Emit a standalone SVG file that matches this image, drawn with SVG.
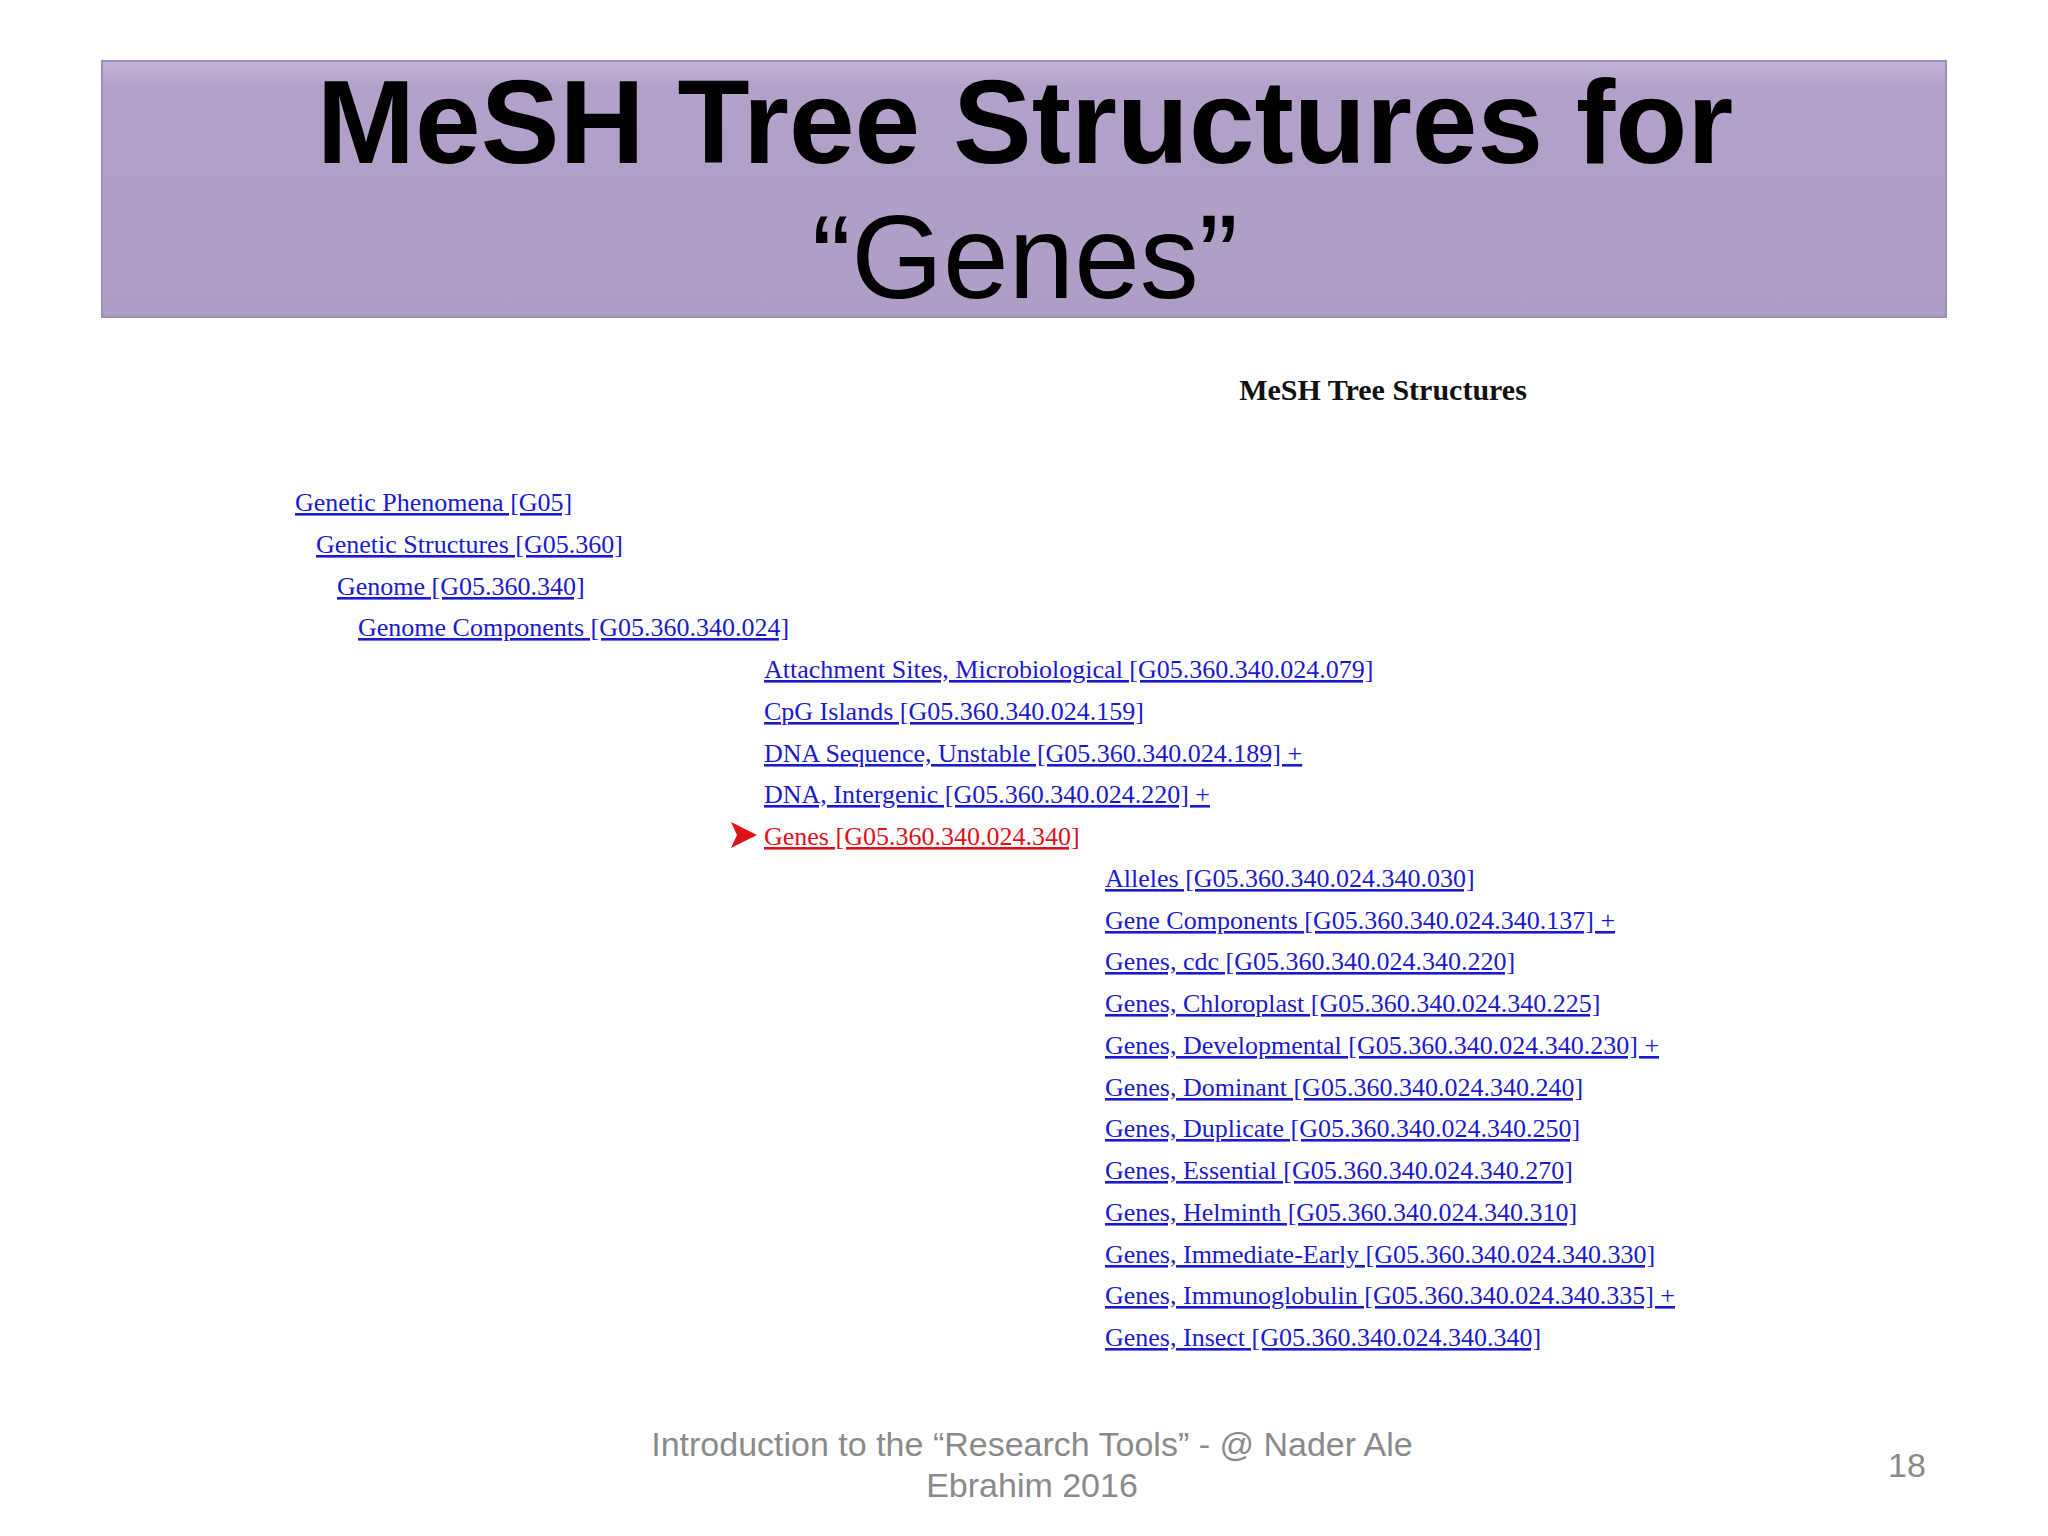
<svg xmlns="http://www.w3.org/2000/svg" width="2048" height="1536" viewBox="0 0 2048 1536">
<defs>
<linearGradient id="bg" x1="0" y1="0" x2="0" y2="1"><stop offset="0" stop-color="#c2b5d8"/><stop offset="0.1" stop-color="#b2a2c9"/><stop offset="1" stop-color="#ad9ec5"/></linearGradient>
<clipPath id="cp"><rect x="0" y="0" width="2048" height="1371"/></clipPath>
</defs>
<style>
.t{font-family:"Liberation Serif",serif;font-size:26px;fill:#1a1ad0;text-decoration:underline}
.r{fill:#e0101a}
.f{font-family:"Liberation Sans",Arial,sans-serif;font-size:34px;fill:#8a8a8a;text-anchor:middle}
</style>
<rect width="2048" height="1536" fill="#fff"/>
<g id="banner">
<rect x="102" y="61" width="1844" height="256" fill="url(#bg)" stroke="#9d8fb8" stroke-width="2"/>
<text x="1025" y="163" font-family="Liberation Sans,Arial,sans-serif" font-size="118" font-weight="bold" text-anchor="middle" fill="#000">MeSH Tree Structures for</text>
<text x="1025" y="298" font-family="Liberation Sans,Arial,sans-serif" font-size="118" text-anchor="middle" fill="#000">“Genes”</text>
</g>
<text x="1383" y="400" font-family="Liberation Serif,serif" font-size="30" font-weight="bold" text-anchor="middle" fill="#111">MeSH Tree Structures</text>
<g id="tree" clip-path="url(#cp)">
<text class="t" x="295" y="511">Genetic Phenomena [G05]</text>
<text class="t" x="316" y="553">Genetic Structures [G05.360]</text>
<text class="t" x="337" y="595">Genome [G05.360.340]</text>
<text class="t" x="358" y="636">Genome Components [G05.360.340.024]</text>
<text class="t" x="764" y="678">Attachment Sites, Microbiological [G05.360.340.024.079]</text>
<text class="t" x="764" y="720">CpG Islands [G05.360.340.024.159]</text>
<text class="t" x="764" y="762">DNA Sequence, Unstable [G05.360.340.024.189]  +</text>
<text class="t" x="764" y="803">DNA, Intergenic [G05.360.340.024.220]  +</text>
<polygon points="731,822 757,835 731,848 737,835" fill="#e0101a"/>
<text class="t r" x="764" y="845">Genes [G05.360.340.024.340]</text>
<text class="t" x="1105" y="887">Alleles [G05.360.340.024.340.030]</text>
<text class="t" x="1105" y="929">Gene Components [G05.360.340.024.340.137]  +</text>
<text class="t" x="1105" y="970">Genes, cdc [G05.360.340.024.340.220]</text>
<text class="t" x="1105" y="1012">Genes, Chloroplast [G05.360.340.024.340.225]</text>
<text class="t" x="1105" y="1054">Genes, Developmental [G05.360.340.024.340.230]  +</text>
<text class="t" x="1105" y="1096">Genes, Dominant [G05.360.340.024.340.240]</text>
<text class="t" x="1105" y="1137">Genes, Duplicate [G05.360.340.024.340.250]</text>
<text class="t" x="1105" y="1179">Genes, Essential [G05.360.340.024.340.270]</text>
<text class="t" x="1105" y="1221">Genes, Helminth [G05.360.340.024.340.310]</text>
<text class="t" x="1105" y="1263">Genes, Immediate-Early [G05.360.340.024.340.330]</text>
<text class="t" x="1105" y="1304">Genes, Immunoglobulin [G05.360.340.024.340.335]  +</text>
<text class="t" x="1105" y="1346">Genes, Insect [G05.360.340.024.340.340]</text>
<text class="t" x="1105" y="1388">Genes, Lethal [G05.360.340.024.340.350]</text>
</g>
<text class="f" x="1032" y="1456">Introduction to the “Research Tools” - @ Nader Ale</text>
<text class="f" x="1032" y="1497">Ebrahim 2016</text>
<text x="1907" y="1477" font-family="Liberation Sans,Arial,sans-serif" font-size="34" fill="#8a8a8a" text-anchor="middle">18</text>
</svg>
